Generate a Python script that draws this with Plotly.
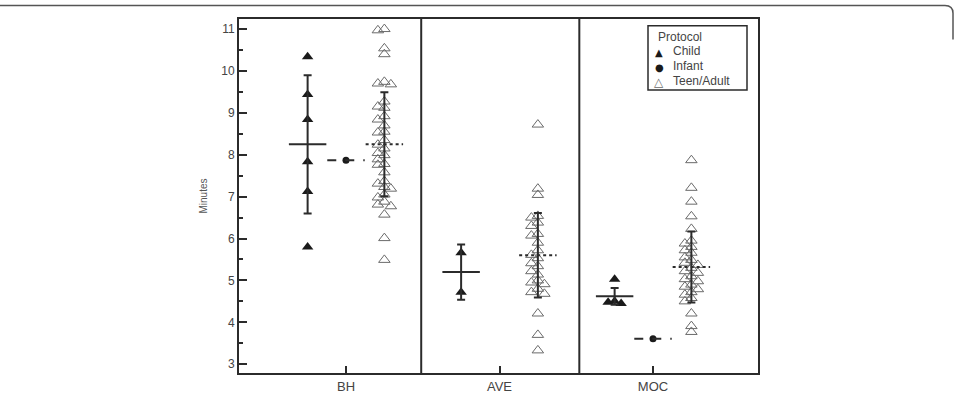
import plotly.graph_objects as go

# ---- data ----
categories = ["BH", "AVE", "MOC"]
cat_pos = [1, 2, 3]

child_vals = {
    "BH": [10.34, 9.44, 8.84, 7.83, 7.12, 5.80],
    "AVE": [5.66, 4.72],
    "MOC": [5.03, 4.48, 4.45, 4.50],
}
infant_vals = {
    "BH": [7.87],
    "AVE": [],
    "MOC": [3.61],
}
teen_vals = {
    "BH": [11.0, 10.97, 10.54, 10.40, 9.74, 9.70, 9.68, 9.27, 9.15, 9.12, 8.92,
           8.84, 8.70, 8.55, 8.53, 8.35, 8.24, 8.15, 8.04, 7.99, 7.89, 7.78,
           7.76, 7.58, 7.37, 7.31, 7.23, 7.19, 7.05, 6.98, 6.88, 6.81, 6.77,
           6.57, 6.01, 5.49],
    "AVE": [8.72, 7.19, 7.04, 6.54, 6.50, 6.38, 6.30, 6.11, 6.07, 5.90, 5.72,
            5.61, 5.53, 5.41, 5.34, 5.22, 5.14, 5.00, 4.95, 4.91, 4.80, 4.72,
            4.68, 4.21, 3.70, 3.33],
    "MOC": [7.87, 7.21, 6.88, 6.53, 6.23, 5.95, 5.88, 5.80, 5.72, 5.66, 5.55,
            5.49, 5.42, 5.37, 5.30, 5.22, 5.18, 5.10, 5.03, 4.98, 4.90, 4.85,
            4.79, 4.72, 4.66, 4.58, 4.50, 4.21, 3.91, 3.77],
}

# summary statistics shown in the figure (mean +/- SD)
child_mean = [8.25, 5.20, 4.62]
child_sd = [1.65, 0.66, 0.20]
infant_mean = [7.87, None, 3.61]
teen_mean = [8.25, 5.60, 5.32]
teen_sd = [1.24, 1.01, 0.85]

protocols = ["Child", "Infant", "Teen/Adult"]
legend_symbols = ["\u25B2", "\u25CF", "\u25B3"]

group_offset = {"Child": -0.25, "Infant": 0.0, "Teen/Adult": 0.25}

# ---- layout geometry ----
X_RANGE = [0.303, 3.684]
Y_RANGE = [2.79, 11.24]
PLOT_L, PLOT_T, PLOT_W, PLOT_H = 239, 19, 519, 364
PX_X = PLOT_W / (X_RANGE[1] - X_RANGE[0])
PX_Y = PLOT_H / (Y_RANGE[1] - Y_RANGE[0])


def paper_x(p):
    return (p - PLOT_L) / PLOT_W


def paper_y(p):
    return (PLOT_T + PLOT_H - p) / PLOT_H


def swarm(values, center, step_px=6.5, min_dx=6.0, min_dy=5.5):
    """Simple compact beeswarm: shift overlapping points sideways."""
    placed = []
    xs = [None] * len(values)
    order = sorted(range(len(values)), key=lambda i: -values[i])
    for i in order:
        v = values[i]
        k = 0
        while True:
            cands = [0] if k == 0 else [-k, k]
            done = False
            for c in cands:
                dx = c * step_px
                ok = all(not (abs(dx - px) < min_dx and abs((v - pv) * PX_Y) < min_dy)
                         for px, pv in placed)
                if ok:
                    placed.append((dx, v))
                    xs[i] = center + dx / PX_X
                    done = True
                    break
            if done:
                break
            k += 1
    return xs


fig = go.Figure()

DARK = "#2b2b2b"
GREY = "#6a6a6a"

for ci, cat in enumerate(categories):
    c = cat_pos[ci]
    vals = child_vals[cat]
    if vals:
        xs = swarm(vals, c + group_offset["Child"])
        fig.add_trace(go.Scatter(
            x=xs, y=vals, mode="markers", name="Child", showlegend=False,
            marker=dict(symbol="triangle-up", size=10, color="#1a1a1a")))
    vals = infant_vals[cat]
    if vals:
        xs = [c + group_offset["Infant"]] * len(vals)
        fig.add_trace(go.Scatter(
            x=xs, y=vals, mode="markers", name="Infant", showlegend=False,
            marker=dict(symbol="circle", size=7, color="#1a1a1a")))
    vals = teen_vals[cat]
    if vals:
        xs = swarm(vals, c + group_offset["Teen/Adult"])
        fig.add_trace(go.Scatter(
            x=xs, y=vals, mode="markers", name="Teen/Adult", showlegend=False,
            marker=dict(symbol="triangle-up-open", size=10, color=GREY,
                        line=dict(width=1, color=GREY))))

# mean lines and SD error bars
HALF = 0.122
for ci, cat in enumerate(categories):
    c = cat_pos[ci]
    xc = c + group_offset["Child"]
    fig.add_trace(go.Scatter(x=[xc - HALF, xc + HALF], y=[child_mean[ci]] * 2,
                             mode="lines", line=dict(color=DARK, width=2),
                             showlegend=False, hoverinfo="skip"))
    fig.add_trace(go.Scatter(x=[xc], y=[child_mean[ci]], mode="markers",
                             marker=dict(size=1, opacity=0),
                             error_y=dict(type="data", array=[child_sd[ci]],
                                          color=DARK, thickness=2, width=4),
                             showlegend=False, hoverinfo="skip"))
    if infant_mean[ci] is not None:
        xi = c + group_offset["Infant"]
        fig.add_trace(go.Scatter(x=[xi - HALF, xi + HALF], y=[infant_mean[ci]] * 2,
                                 mode="lines", line=dict(color=DARK, width=2, dash="dash"),
                                 showlegend=False, hoverinfo="skip"))
    xt = c + group_offset["Teen/Adult"]
    fig.add_trace(go.Scatter(x=[xt - HALF, xt + HALF], y=[teen_mean[ci]] * 2,
                             mode="lines", line=dict(color=DARK, width=2, dash="dot"),
                             showlegend=False, hoverinfo="skip"))
    fig.add_trace(go.Scatter(x=[xt], y=[teen_mean[ci]], mode="markers",
                             marker=dict(size=1, opacity=0),
                             error_y=dict(type="data", array=[teen_sd[ci]],
                                          color=DARK, thickness=2, width=4),
                             showlegend=False, hoverinfo="skip"))

# panel dividers
for xd in [1.49, 2.52]:
    fig.add_shape(type="line", xref="x", yref="paper", x0=xd, x1=xd, y0=0, y1=1,
                  line=dict(color=DARK, width=2))

# outer frame (top edge with rounded right corner)
fig.add_shape(type="path", xref="paper", yref="paper",
              path=(f"M {paper_x(0)},{paper_y(5)} L {paper_x(945)},{paper_y(5)} "
                    f"Q {paper_x(953)},{paper_y(5)} {paper_x(953)},{paper_y(13)} "
                    f"L {paper_x(953)},{paper_y(40)}"),
              line=dict(color="#555555", width=1.5))

# compact legend box (drawn manually to match the tight row spacing)
fig.add_shape(type="rect", xref="paper", yref="paper",
              x0=paper_x(648), x1=paper_x(747), y0=paper_y(92), y1=paper_y(26),
              line=dict(color=DARK, width=1.5), fillcolor="white", layer="above")
FONT = "Liberation Sans, Arial, sans-serif"
annots = [dict(text="Protocol", x=paper_x(656), y=paper_y(37), xref="paper", yref="paper",
               xanchor="left", yanchor="middle", showarrow=False,
               font=dict(size=12, color="#444444", family=FONT))]
row_y = [52, 67.5, 83]
sym_colors = ["#1a1a1a", "#1a1a1a", GREY]
sym_sizes = [10, 10, 12]
for name, sym, ry, col, ss in zip(protocols, legend_symbols, row_y, sym_colors, sym_sizes):
    annots.append(dict(text=sym, x=paper_x(659), y=paper_y(ry + 1), xref="paper", yref="paper",
                       xanchor="center", yanchor="middle", showarrow=False,
                       font=dict(size=ss, color=col, family="DejaVu Sans")))
    annots.append(dict(text=name, x=paper_x(671), y=paper_y(ry), xref="paper", yref="paper",
                       xanchor="left", yanchor="middle", showarrow=False,
                       font=dict(size=12, color="#444444", family=FONT)))

fig.update_layout(
    width=957, height=406,
    margin=dict(l=PLOT_L, r=957 - PLOT_L - PLOT_W, t=PLOT_T, b=406 - PLOT_T - PLOT_H),
    paper_bgcolor="white", plot_bgcolor="white",
    font=dict(family=FONT, color="#444444"),
    showlegend=False,
    annotations=annots,
    xaxis=dict(range=X_RANGE, tickvals=cat_pos, ticktext=categories,
               ticks="inside", ticklen=7, tickwidth=2, tickcolor=DARK,
               showline=True, linewidth=2, linecolor=DARK, mirror=True,
               showgrid=False, zeroline=False,
               tickfont=dict(size=13, color="#444444")),
    yaxis=dict(range=Y_RANGE, tickvals=list(range(3, 12)),
               ticks="inside", ticklen=8, tickwidth=2, tickcolor=DARK,
               showline=True, linewidth=2, linecolor=DARK, mirror=True,
               showgrid=False, zeroline=False,
               tickfont=dict(size=12, color="#444444"),
               minor=dict(ticks="inside", ticklen=4, tickwidth=1.5, tickcolor=DARK,
                          dtick=0.5, tick0=0, showgrid=False),
               title=dict(text="Minutes", font=dict(size=10, color="#555555"),
                          standoff=12)),
)

fig.write_html("out.html")
